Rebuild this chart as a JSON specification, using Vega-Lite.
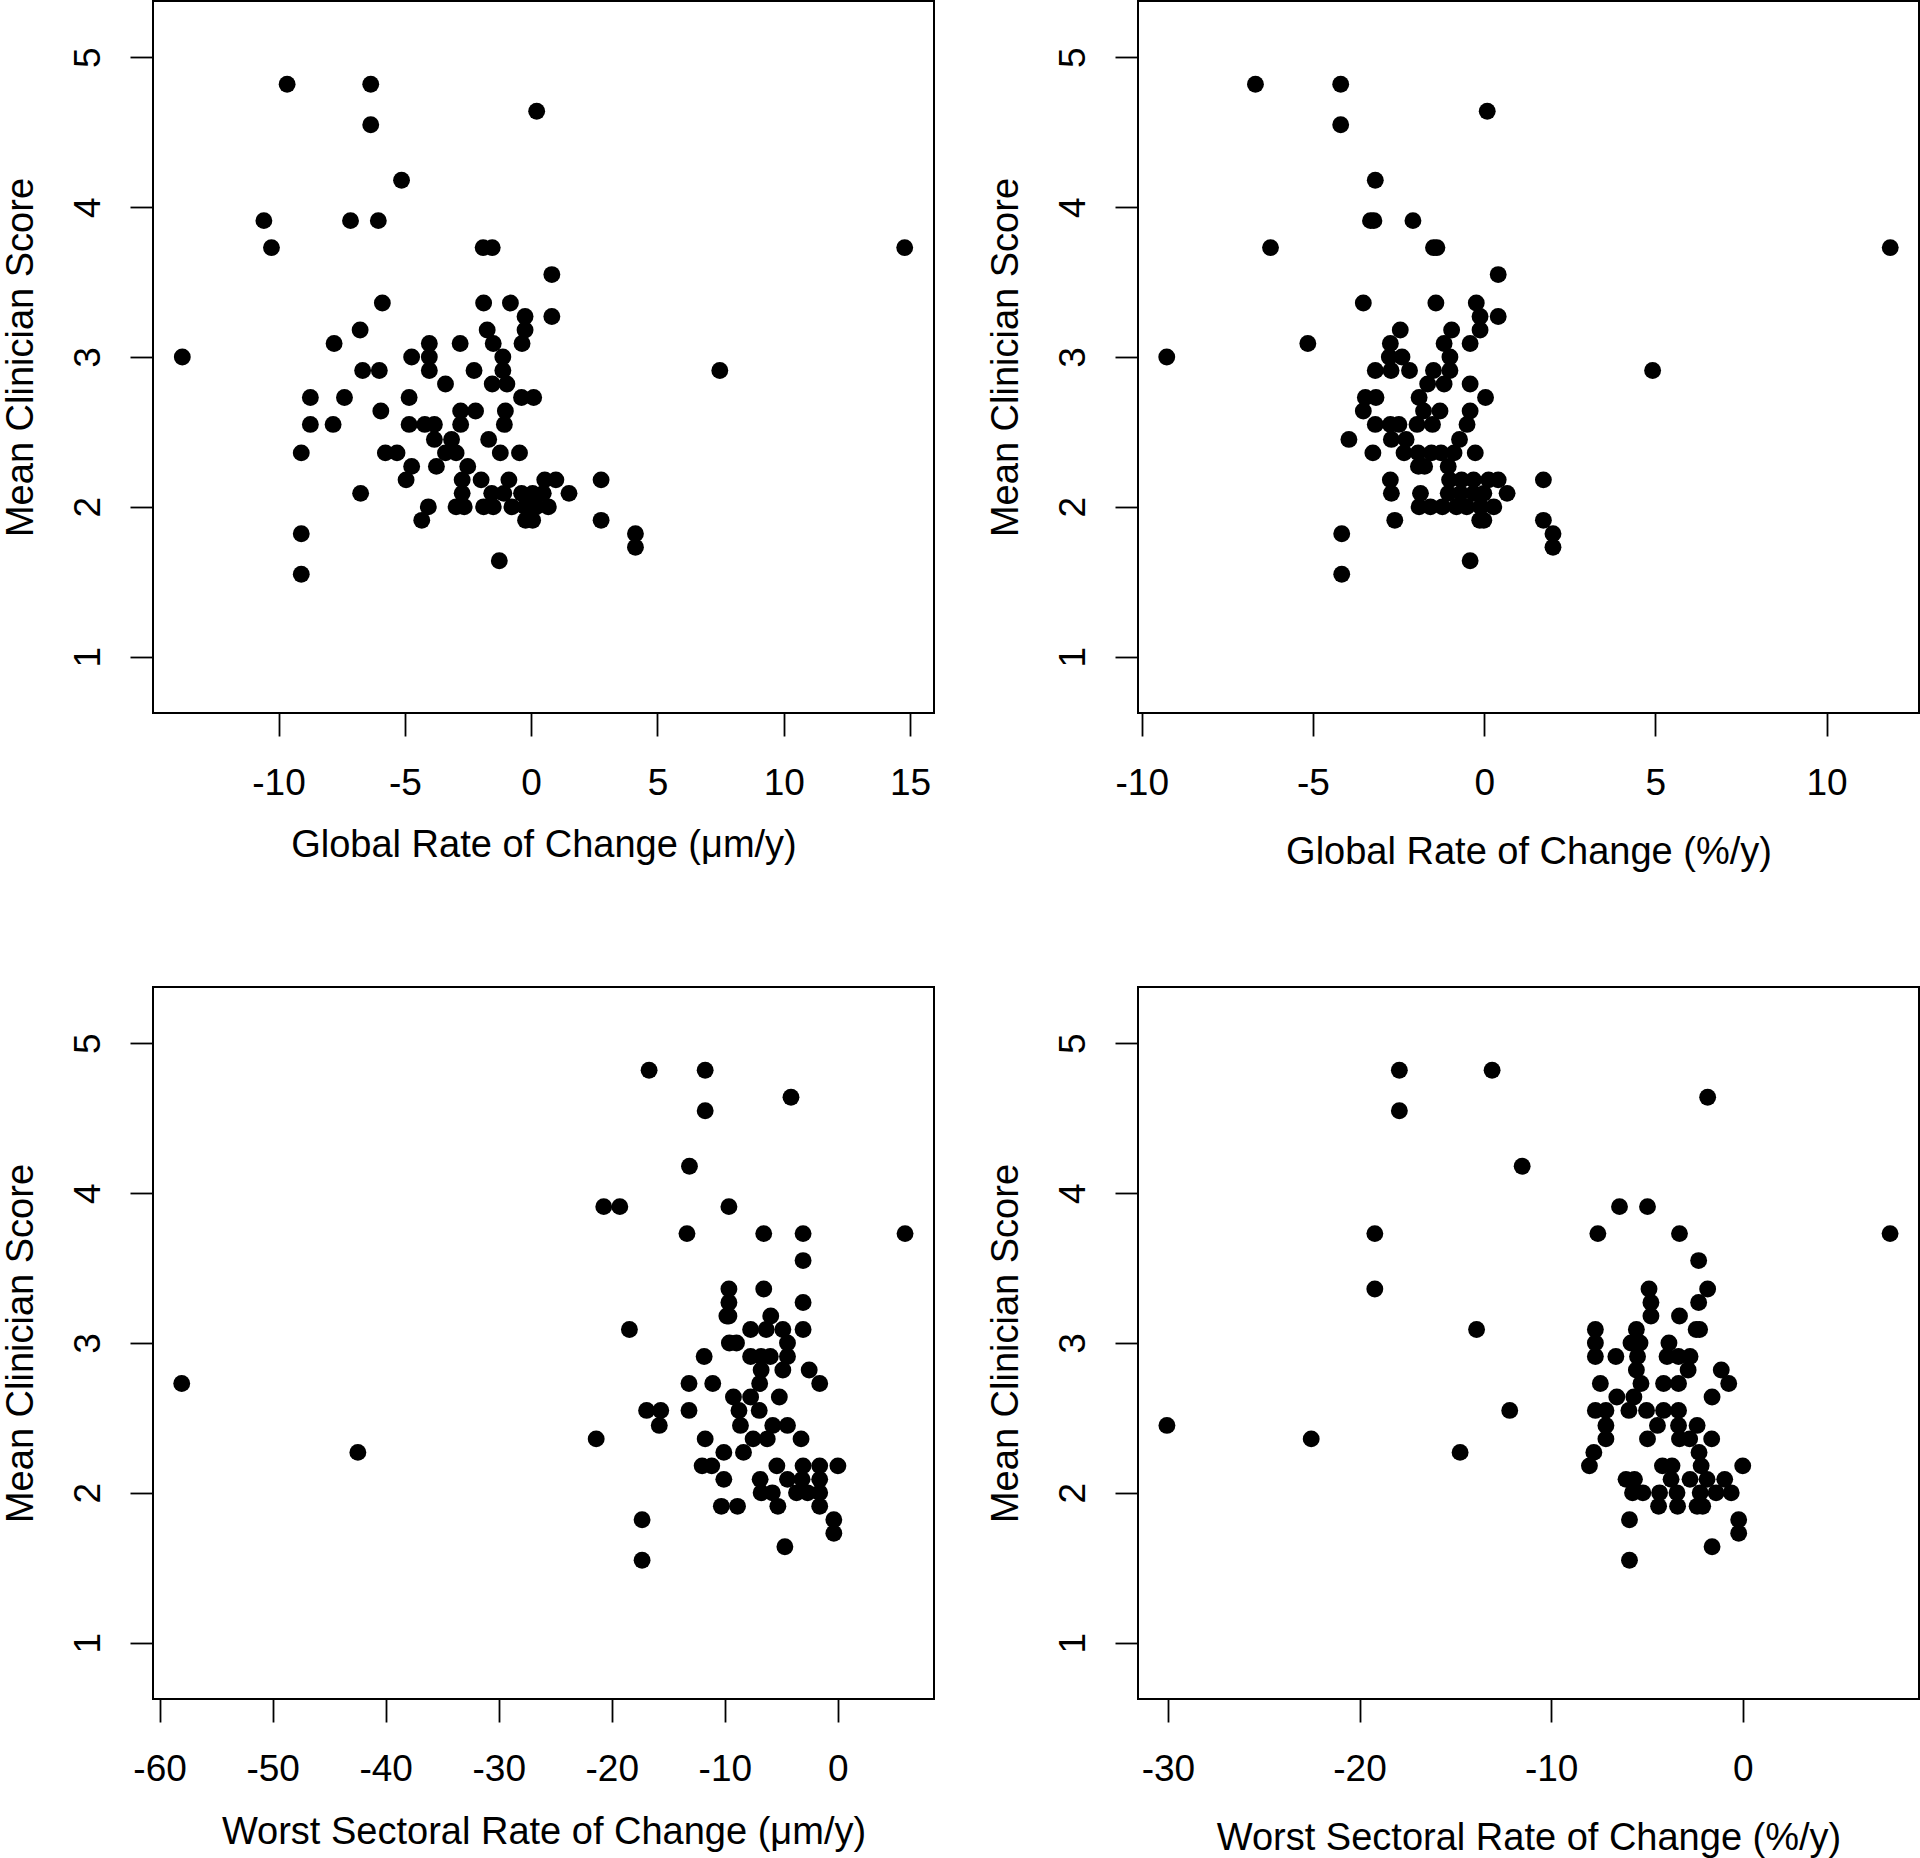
{
  "$schema": "https://vega.github.io/schema/vega-lite/v6.json",
  "background": "white",
  "padding": {"left": 0, "top": 0, "right": 0, "bottom": 0},
  "columns": 2,
  "spacing": {"row": 274, "column": 204},
  "bounds": "flush",
  "config": {
    "font": "Liberation Sans",
    "view": {"stroke": "#000", "strokeWidth": 2},
    "axis": {"domain": false, "grid": false, "ticks": true, "tickSize": 23, "tickWidth": 1.8, "tickColor": "#000",
      "labelFont": "Liberation Sans", "labelFontSize": 37, "labelColor": "#000", "labelPadding": 31, "labelFlush": false, "labelOverlap": false,
      "titleFont": "Liberation Sans", "titleFontSize": 38, "titleFontWeight": "normal", "titleColor": "#000"},
    "axisX": {"labelAngle": 0, "labelAlign": "center", "labelBaseline": "top", "titleBaseline": "top", "labelPadding": 29},
    "axisY": {"labelAngle": -90, "labelAlign": "center", "labelBaseline": "alphabetic", "titleAngle": -90, "titleBaseline": "bottom", "titlePadding": 29}
  },
  "datasets": {
    "p1": [{"x":-9.66,"y":4.82},{"x":-6.35,"y":4.82},{"x":0.22,"y":4.64},{"x":-6.35,"y":4.55},{"x":-5.13,"y":4.18},{"x":-10.58,"y":3.91},{"x":-7.15,"y":3.91},{"x":-6.05,"y":3.91},{"x":-10.28,"y":3.73},{"x":-1.90,"y":3.73},{"x":-1.54,"y":3.73},{"x":14.79,"y":3.73},{"x":0.82,"y":3.55},{"x":-5.89,"y":3.36},{"x":-1.88,"y":3.36},{"x":-0.82,"y":3.36},{"x":-0.24,"y":3.27},{"x":0.82,"y":3.27},{"x":-0.24,"y":3.18},{"x":-6.77,"y":3.18},{"x":-1.74,"y":3.18},{"x":-7.80,"y":3.09},{"x":-4.03,"y":3.09},{"x":-2.81,"y":3.09},{"x":-1.50,"y":3.09},{"x":-0.36,"y":3.09},{"x":-13.81,"y":3.00},{"x":-4.73,"y":3.00},{"x":-4.03,"y":3.00},{"x":-1.12,"y":3.00},{"x":-6.67,"y":2.91},{"x":-6.01,"y":2.91},{"x":-4.03,"y":2.91},{"x":-2.26,"y":2.91},{"x":-1.12,"y":2.91},{"x":7.47,"y":2.91},{"x":-3.39,"y":2.82},{"x":-1.54,"y":2.82},{"x":-0.96,"y":2.82},{"x":-8.74,"y":2.73},{"x":-7.39,"y":2.73},{"x":-4.83,"y":2.73},{"x":-0.38,"y":2.73},{"x":0.10,"y":2.73},{"x":-5.95,"y":2.64},{"x":-2.79,"y":2.64},{"x":-2.20,"y":2.64},{"x":-1.02,"y":2.64},{"x":-8.74,"y":2.55},{"x":-7.84,"y":2.55},{"x":-4.83,"y":2.55},{"x":-4.21,"y":2.55},{"x":-3.83,"y":2.55},{"x":-2.79,"y":2.55},{"x":-1.06,"y":2.55},{"x":-3.83,"y":2.45},{"x":-3.15,"y":2.45},{"x":-1.68,"y":2.45},{"x":-9.10,"y":2.36},{"x":-5.77,"y":2.36},{"x":-5.31,"y":2.36},{"x":-3.39,"y":2.36},{"x":-2.97,"y":2.36},{"x":-1.22,"y":2.36},{"x":-0.46,"y":2.36},{"x":-4.73,"y":2.27},{"x":-3.75,"y":2.27},{"x":-2.51,"y":2.27},{"x":-4.95,"y":2.18},{"x":-2.73,"y":2.18},{"x":-1.98,"y":2.18},{"x":-0.88,"y":2.18},{"x":0.54,"y":2.18},{"x":0.98,"y":2.18},{"x":2.77,"y":2.18},{"x":-6.75,"y":2.09},{"x":-2.73,"y":2.09},{"x":-1.56,"y":2.09},{"x":-1.08,"y":2.09},{"x":-0.38,"y":2.09},{"x":0.06,"y":2.09},{"x":0.48,"y":2.09},{"x":1.50,"y":2.09},{"x":-4.07,"y":2.00},{"x":-2.97,"y":2.00},{"x":-2.65,"y":2.00},{"x":-1.88,"y":2.00},{"x":-1.50,"y":2.00},{"x":-0.76,"y":2.00},{"x":-0.24,"y":2.00},{"x":0.20,"y":2.00},{"x":0.68,"y":2.00},{"x":-4.33,"y":1.91},{"x":-0.22,"y":1.91},{"x":0.06,"y":1.91},{"x":2.77,"y":1.91},{"x":-9.10,"y":1.82},{"x":4.13,"y":1.82},{"x":4.13,"y":1.73},{"x":-1.26,"y":1.64},{"x":-9.10,"y":1.55}],
    "p2": [{"x":-6.68,"y":4.82},{"x":-4.19,"y":4.82},{"x":0.09,"y":4.64},{"x":-4.19,"y":4.55},{"x":-3.18,"y":4.18},{"x":-3.32,"y":3.91},{"x":-3.22,"y":3.91},{"x":-2.08,"y":3.91},{"x":-6.24,"y":3.73},{"x":-1.48,"y":3.73},{"x":-1.38,"y":3.73},{"x":11.86,"y":3.73},{"x":0.41,"y":3.55},{"x":-3.53,"y":3.36},{"x":-1.41,"y":3.36},{"x":-0.23,"y":3.36},{"x":-0.12,"y":3.27},{"x":0.41,"y":3.27},{"x":-0.12,"y":3.18},{"x":-2.45,"y":3.18},{"x":-0.95,"y":3.18},{"x":-5.15,"y":3.09},{"x":-2.74,"y":3.09},{"x":-1.17,"y":3.09},{"x":-0.41,"y":3.09},{"x":-9.27,"y":3.00},{"x":-2.77,"y":3.00},{"x":-2.40,"y":3.00},{"x":-1.00,"y":3.00},{"x":-3.18,"y":2.91},{"x":-2.72,"y":2.91},{"x":-2.18,"y":2.91},{"x":-1.48,"y":2.91},{"x":-1.00,"y":2.91},{"x":4.92,"y":2.91},{"x":-1.65,"y":2.82},{"x":-1.17,"y":2.82},{"x":-0.41,"y":2.82},{"x":-3.47,"y":2.73},{"x":-3.16,"y":2.73},{"x":-1.90,"y":2.73},{"x":0.04,"y":2.73},{"x":-3.53,"y":2.64},{"x":-1.77,"y":2.64},{"x":-1.29,"y":2.64},{"x":-0.41,"y":2.64},{"x":-3.18,"y":2.55},{"x":-2.74,"y":2.55},{"x":-2.49,"y":2.55},{"x":-1.96,"y":2.55},{"x":-1.51,"y":2.55},{"x":-0.50,"y":2.55},{"x":-3.95,"y":2.45},{"x":-2.71,"y":2.45},{"x":-2.28,"y":2.45},{"x":-0.72,"y":2.45},{"x":-3.25,"y":2.36},{"x":-2.34,"y":2.36},{"x":-1.93,"y":2.36},{"x":-1.54,"y":2.36},{"x":-1.26,"y":2.36},{"x":-0.88,"y":2.36},{"x":-0.26,"y":2.36},{"x":-1.92,"y":2.27},{"x":-1.74,"y":2.27},{"x":-1.05,"y":2.27},{"x":-2.74,"y":2.18},{"x":-1.01,"y":2.18},{"x":-0.66,"y":2.18},{"x":-0.31,"y":2.18},{"x":0.13,"y":2.18},{"x":0.41,"y":2.18},{"x":1.73,"y":2.18},{"x":-2.71,"y":2.09},{"x":-1.86,"y":2.09},{"x":-1.05,"y":2.09},{"x":-0.69,"y":2.09},{"x":-0.31,"y":2.09},{"x":-0.01,"y":2.09},{"x":0.67,"y":2.09},{"x":-1.90,"y":2.00},{"x":-1.57,"y":2.00},{"x":-1.22,"y":2.00},{"x":-0.81,"y":2.00},{"x":-0.51,"y":2.00},{"x":-0.10,"y":2.00},{"x":0.28,"y":2.00},{"x":-2.61,"y":1.91},{"x":-0.13,"y":1.91},{"x":-0.01,"y":1.91},{"x":1.73,"y":1.91},{"x":-4.16,"y":1.82},{"x":2.01,"y":1.82},{"x":2.01,"y":1.73},{"x":-0.41,"y":1.64},{"x":-4.16,"y":1.55}],
    "p3": [{"x":-16.70,"y":4.82},{"x":-11.74,"y":4.82},{"x":-4.15,"y":4.64},{"x":-11.74,"y":4.55},{"x":-13.13,"y":4.18},{"x":-20.71,"y":3.91},{"x":-19.29,"y":3.91},{"x":-9.64,"y":3.91},{"x":-13.35,"y":3.73},{"x":-6.56,"y":3.73},{"x":-3.08,"y":3.73},{"x":5.94,"y":3.73},{"x":-3.08,"y":3.55},{"x":-9.64,"y":3.36},{"x":-6.56,"y":3.36},{"x":-9.64,"y":3.27},{"x":-3.08,"y":3.27},{"x":-9.82,"y":3.18},{"x":-9.64,"y":3.18},{"x":-5.94,"y":3.18},{"x":-18.44,"y":3.09},{"x":-7.72,"y":3.09},{"x":-6.34,"y":3.09},{"x":-4.87,"y":3.09},{"x":-3.08,"y":3.09},{"x":-9.60,"y":3.00},{"x":-8.97,"y":3.00},{"x":-4.46,"y":3.00},{"x":-11.83,"y":2.91},{"x":-7.72,"y":2.91},{"x":-6.79,"y":2.91},{"x":-5.98,"y":2.91},{"x":-4.46,"y":2.91},{"x":-6.79,"y":2.82},{"x":-4.87,"y":2.82},{"x":-2.54,"y":2.82},{"x":-58.04,"y":2.73},{"x":-13.17,"y":2.73},{"x":-11.07,"y":2.73},{"x":-6.92,"y":2.73},{"x":-1.61,"y":2.73},{"x":-9.24,"y":2.64},{"x":-7.72,"y":2.64},{"x":-5.18,"y":2.64},{"x":-16.92,"y":2.55},{"x":-15.67,"y":2.55},{"x":-13.17,"y":2.55},{"x":-8.75,"y":2.55},{"x":-6.96,"y":2.55},{"x":-15.80,"y":2.45},{"x":-8.62,"y":2.45},{"x":-5.76,"y":2.45},{"x":-4.46,"y":2.45},{"x":-21.38,"y":2.36},{"x":-11.74,"y":2.36},{"x":-7.50,"y":2.36},{"x":-6.25,"y":2.36},{"x":-3.26,"y":2.36},{"x":-42.46,"y":2.27},{"x":-10.09,"y":2.27},{"x":-8.35,"y":2.27},{"x":-12.01,"y":2.18},{"x":-11.16,"y":2.18},{"x":-5.40,"y":2.18},{"x":-3.08,"y":2.18},{"x":-1.61,"y":2.18},{"x":0.00,"y":2.18},{"x":-10.09,"y":2.09},{"x":-6.88,"y":2.09},{"x":-4.46,"y":2.09},{"x":-3.17,"y":2.09},{"x":-1.61,"y":2.09},{"x":-6.79,"y":2.00},{"x":-5.80,"y":2.00},{"x":-3.66,"y":2.00},{"x":-2.68,"y":2.00},{"x":-1.61,"y":2.00},{"x":-10.31,"y":1.91},{"x":-8.88,"y":1.91},{"x":-5.31,"y":1.91},{"x":-1.61,"y":1.91},{"x":-17.32,"y":1.82},{"x":-0.36,"y":1.82},{"x":-0.36,"y":1.73},{"x":-4.69,"y":1.64},{"x":-17.32,"y":1.55}],
    "p4": [{"x":-17.92,"y":4.82},{"x":-13.08,"y":4.82},{"x":-1.83,"y":4.64},{"x":-17.92,"y":4.55},{"x":-11.51,"y":4.18},{"x":-6.43,"y":3.91},{"x":-4.97,"y":3.91},{"x":-19.20,"y":3.73},{"x":-7.56,"y":3.73},{"x":-3.30,"y":3.73},{"x":7.69,"y":3.73},{"x":-2.30,"y":3.55},{"x":-19.20,"y":3.36},{"x":-4.89,"y":3.36},{"x":-1.83,"y":3.36},{"x":-4.79,"y":3.27},{"x":-2.30,"y":3.27},{"x":-4.79,"y":3.18},{"x":-3.30,"y":3.18},{"x":-13.89,"y":3.09},{"x":-7.69,"y":3.09},{"x":-5.55,"y":3.09},{"x":-2.43,"y":3.09},{"x":-2.25,"y":3.09},{"x":-7.69,"y":3.00},{"x":-5.83,"y":3.00},{"x":-5.36,"y":3.00},{"x":-3.85,"y":3.00},{"x":-7.69,"y":2.91},{"x":-6.62,"y":2.91},{"x":-5.49,"y":2.91},{"x":-3.95,"y":2.91},{"x":-3.35,"y":2.91},{"x":-2.75,"y":2.91},{"x":-5.55,"y":2.82},{"x":-2.85,"y":2.82},{"x":-1.12,"y":2.82},{"x":-7.43,"y":2.73},{"x":-5.31,"y":2.73},{"x":-4.13,"y":2.73},{"x":-3.35,"y":2.73},{"x":-0.73,"y":2.73},{"x":-6.57,"y":2.64},{"x":-5.68,"y":2.64},{"x":-1.60,"y":2.64},{"x":-12.16,"y":2.55},{"x":-7.69,"y":2.55},{"x":-7.14,"y":2.55},{"x":-5.94,"y":2.55},{"x":-5.02,"y":2.55},{"x":-4.13,"y":2.55},{"x":-3.35,"y":2.55},{"x":-30.05,"y":2.45},{"x":-7.14,"y":2.45},{"x":-4.45,"y":2.45},{"x":-3.35,"y":2.45},{"x":-2.38,"y":2.45},{"x":-22.52,"y":2.36},{"x":-7.14,"y":2.36},{"x":-4.97,"y":2.36},{"x":-3.30,"y":2.36},{"x":-2.77,"y":2.36},{"x":-1.62,"y":2.36},{"x":-14.75,"y":2.27},{"x":-7.77,"y":2.27},{"x":-2.28,"y":2.27},{"x":-8.00,"y":2.18},{"x":-4.19,"y":2.18},{"x":-3.69,"y":2.18},{"x":-2.17,"y":2.18},{"x":0.00,"y":2.18},{"x":-6.09,"y":2.09},{"x":-5.65,"y":2.09},{"x":-3.74,"y":2.09},{"x":-2.75,"y":2.09},{"x":-1.86,"y":2.09},{"x":-0.94,"y":2.09},{"x":-5.75,"y":2.00},{"x":-5.21,"y":2.00},{"x":-4.34,"y":2.00},{"x":-3.43,"y":2.00},{"x":-2.22,"y":2.00},{"x":-1.39,"y":2.00},{"x":-0.60,"y":2.00},{"x":-4.39,"y":1.91},{"x":-3.40,"y":1.91},{"x":-2.38,"y":1.91},{"x":-2.09,"y":1.91},{"x":-5.91,"y":1.82},{"x":-0.21,"y":1.82},{"x":-0.21,"y":1.73},{"x":-1.60,"y":1.64},{"x":-5.91,"y":1.55}]
  },
  "concat": [
    {
      "width": 781, "height": 712,
      "data": {"name": "p1"},
      "mark": {"type": "circle", "size": 285, "opacity": 1, "color": "#000"},
      "encoding": {
        "x": {"field": "x", "type": "quantitative", "scale": {"domain": [-14.97, 15.95], "nice": false, "zero": false},
          "axis": {"title": "Global Rate of Change (μm/y)", "values": [-10, -5, 0, 5, 10, 15], "labelExpr": "toString(datum.value)", "titlePadding": 25}},
        "y": {"field": "y", "type": "quantitative", "scale": {"domain": [0.624, 5.376], "nice": false, "zero": false},
          "axis": {"title": "Mean Clinician Score", "values": [1, 2, 3, 4, 5], "labelExpr": "toString(datum.value)"}}
      }
    },
    {
      "width": 781, "height": 712,
      "data": {"name": "p2"},
      "mark": {"type": "circle", "size": 285, "opacity": 1, "color": "#000"},
      "encoding": {
        "x": {"field": "x", "type": "quantitative", "scale": {"domain": [-10.11, 12.70], "nice": false, "zero": false},
          "axis": {"title": "Global Rate of Change (%/y)", "values": [-10, -5, 0, 5, 10], "labelExpr": "toString(datum.value)", "titlePadding": 32}},
        "y": {"field": "y", "type": "quantitative", "scale": {"domain": [0.624, 5.376], "nice": false, "zero": false},
          "axis": {"title": "Mean Clinician Score", "values": [1, 2, 3, 4, 5], "labelExpr": "toString(datum.value)"}}
      }
    },
    {
      "width": 781, "height": 712,
      "data": {"name": "p3"},
      "mark": {"type": "circle", "size": 285, "opacity": 1, "color": "#000"},
      "encoding": {
        "x": {"field": "x", "type": "quantitative", "scale": {"domain": [-60.58, 8.50], "nice": false, "zero": false},
          "axis": {"title": "Worst Sectoral Rate of Change (μm/y)", "values": [-60, -50, -40, -30, -20, -10, 0], "labelExpr": "toString(datum.value)", "titlePadding": 26}},
        "y": {"field": "y", "type": "quantitative", "scale": {"domain": [0.624, 5.376], "nice": false, "zero": false},
          "axis": {"title": "Mean Clinician Score", "values": [1, 2, 3, 4, 5], "labelExpr": "toString(datum.value)"}}
      }
    },
    {
      "width": 781, "height": 712,
      "data": {"name": "p4"},
      "mark": {"type": "circle", "size": 285, "opacity": 1, "color": "#000"},
      "encoding": {
        "x": {"field": "x", "type": "quantitative", "scale": {"domain": [-31.56, 9.20], "nice": false, "zero": false},
          "axis": {"title": "Worst Sectoral Rate of Change (%/y)", "values": [-30, -20, -10, 0], "labelExpr": "toString(datum.value)", "titlePadding": 32}},
        "y": {"field": "y", "type": "quantitative", "scale": {"domain": [0.624, 5.376], "nice": false, "zero": false},
          "axis": {"title": "Mean Clinician Score", "values": [1, 2, 3, 4, 5], "labelExpr": "toString(datum.value)"}}
      }
    }
  ]
}
